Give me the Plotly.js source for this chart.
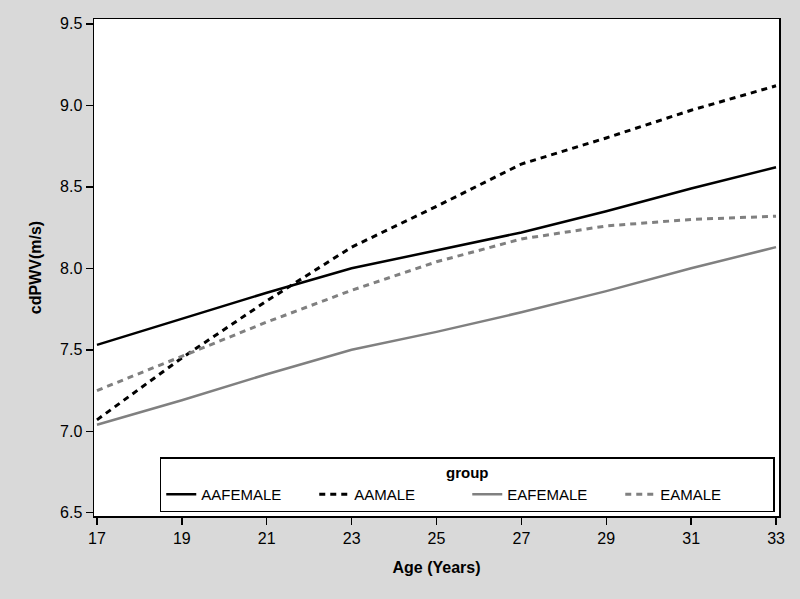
<!DOCTYPE html>
<html>
<head>
<meta charset="utf-8">
<script src="https://cdn.plot.ly/plotly-3.0.1.min.js"></script>
<style>html,body{margin:0;padding:0;background:#d9d9d9;}#chart{width:800px;height:599px;}</style>
</head>
<body>
<div id="chart"></div>
<script>
var ages = [17, 19, 21, 23, 25, 27, 29, 31, 33];
var aaFemale = [7.53, 7.69, 7.85, 8.00, 8.11, 8.22, 8.35, 8.49, 8.62];
var aaMale   = [7.07, 7.45, 7.80, 8.13, 8.38, 8.64, 8.80, 8.97, 9.12];
var eaFemale = [7.04, 7.19, 7.35, 7.50, 7.61, 7.73, 7.86, 8.00, 8.13];
var eaMale   = [7.25, 7.46, 7.67, 7.865, 8.04, 8.18, 8.26, 8.30, 8.32];
var groupNames = ["AAFEMALE", "AAMALE", "EAFEMALE", "EAMALE"];
var yTicks = [6.5, 7.0, 7.5, 8.0, 8.5, 9.0, 9.5];
var xTicks = [17, 19, 21, 23, 25, 27, 29, 31, 33];

var font = "Liberation Sans, Arial, sans-serif";
var traces = [
  {x: ages, y: aaFemale, name: groupNames[0], mode: "lines", line: {color: "#000000", width: 2.5}},
  {x: ages, y: aaMale, name: groupNames[1], mode: "lines", line: {color: "#000000", width: 3, dash: "6px,5px"}},
  {x: ages, y: eaFemale, name: groupNames[2], mode: "lines", line: {color: "#808080", width: 2.5}},
  {x: ages, y: eaMale, name: groupNames[3], mode: "lines", line: {color: "#808080", width: 3, dash: "6px,5px"}}
];

var layout = {
  width: 800, height: 599,
  paper_bgcolor: "#d9d9d9",
  plot_bgcolor: "#ffffff",
  margin: {l: 94, r: 21, t: 19, b: 83},
  font: {family: font, color: "#000000", size: 16},
  showlegend: true,
  legend: {
    orientation: "h",
    x: 0.096, xanchor: "left",
    y: 0.008, yanchor: "bottom",
    bgcolor: "#ffffff",
    bordercolor: "#000000",
    borderwidth: 1.5,
    entrywidth: 108,
    entrywidthmode: "pixels",
    font: {family: font, size: 15, color: "#000000"},
    title: {text: "<b>group</b>", side: "top center", font: {family: font, size: 15}},
    tracegroupgap: 0
  },
  xaxis: {
    range: [16.93, 33.07],
    tickvals: xTicks,
    ticktext: xTicks.map(String),
    ticks: "outside", ticklen: 7, tickwidth: 1.5, tickcolor: "#000000",
    showline: true, linecolor: "#000000", linewidth: 1.5, mirror: true,
    showgrid: false, zeroline: false,
    tickfont: {family: font, size: 16},
    title: {text: "<b>Age (Years)</b>", font: {family: font, size: 16}, standoff: 16}
  },
  yaxis: {
    range: [6.48, 9.53],
    tickvals: yTicks,
    ticktext: yTicks.map(function(v){return v.toFixed(1);}),
    ticks: "outside", ticklen: 7, tickwidth: 1.5, tickcolor: "#000000",
    showline: true, linecolor: "#000000", linewidth: 1.5, mirror: true,
    showgrid: false, zeroline: false,
    tickfont: {family: font, size: 16},
    title: {text: "<b>cdPWV(m/s)</b>", font: {family: font, size: 16}, standoff: 14}
  }
};

Plotly.newPlot("chart", traces, layout, {displayModeBar: false, staticPlot: true});
</script>
</body>
</html>
